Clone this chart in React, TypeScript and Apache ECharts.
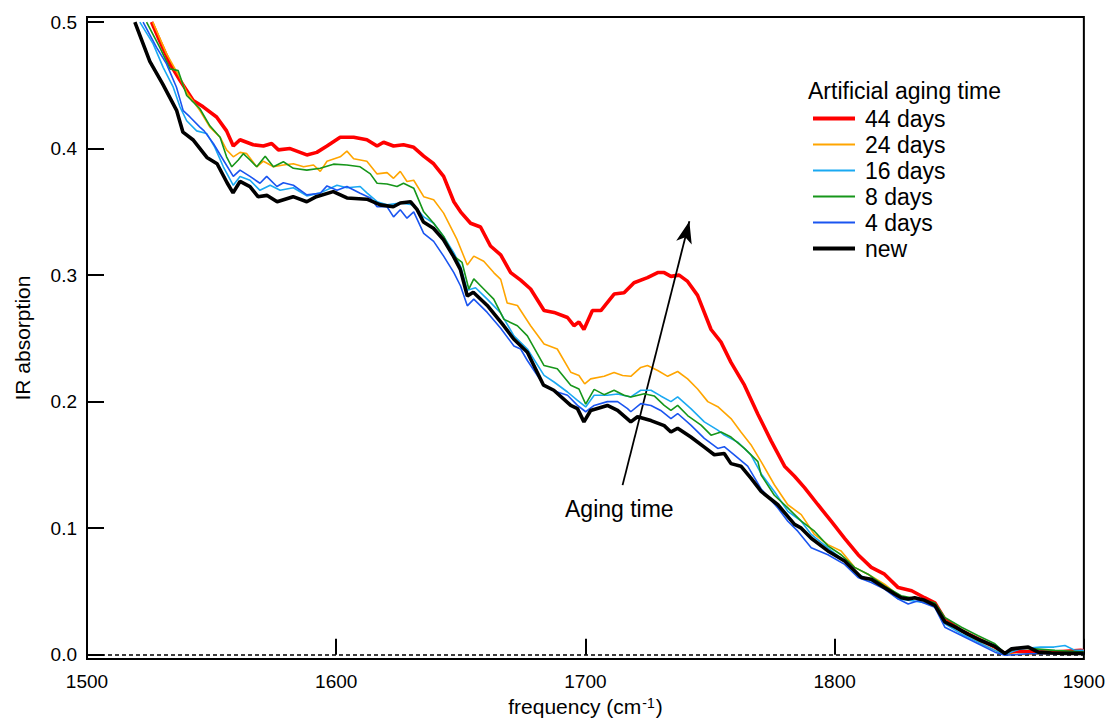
import React, { useEffect, useRef } from "react";
import * as echarts from "echarts";

// Frequency (cm-1), IR absorption pairs
const days44: [number, number][] = [
  [1525.9, 0.5], [1529.2, 0.485], [1533.3, 0.467], [1537.3, 0.454], [1542.6, 0.438], [1546.6, 0.433],
  [1552.0, 0.425], [1556.0, 0.414], [1558.7, 0.402], [1561.4, 0.407], [1566.7, 0.403], [1570.8, 0.402],
  [1574.1, 0.404], [1576.8, 0.399], [1581.5, 0.4], [1588.2, 0.395], [1592.2, 0.397], [1596.3, 0.402],
  [1601.6, 0.409], [1607.0, 0.409], [1612.3, 0.407], [1616.4, 0.402], [1619.0, 0.405], [1623.0, 0.402],
  [1627.0, 0.403], [1631.1, 0.401], [1635.1, 0.394], [1639.1, 0.388], [1643.1, 0.378], [1647.2, 0.358],
  [1649.9, 0.35], [1653.9, 0.341], [1657.9, 0.338], [1661.9, 0.323], [1666.0, 0.316], [1670.0, 0.302],
  [1674.0, 0.296], [1678.0, 0.289], [1683.4, 0.272], [1687.4, 0.2705], [1692.8, 0.2665], [1695.4, 0.26],
  [1697.4, 0.263], [1699.4, 0.257], [1702.8, 0.272], [1706.2, 0.272], [1711.5, 0.285], [1715.5, 0.286],
  [1719.5, 0.294], [1724.9, 0.298], [1729.0, 0.302], [1731.6, 0.302], [1734.3, 0.299], [1737.6, 0.3],
  [1741.0, 0.295], [1745.0, 0.284], [1750.4, 0.257], [1754.4, 0.247], [1758.4, 0.231], [1763.8, 0.213],
  [1769.2, 0.19], [1774.5, 0.169], [1779.9, 0.149], [1783.9, 0.141], [1787.9, 0.132], [1793.3, 0.1185],
  [1798.6, 0.1055], [1804.0, 0.092], [1809.4, 0.079], [1814.7, 0.069], [1820.0, 0.0636], [1825.5, 0.053],
  [1830.9, 0.0505], [1836.1, 0.045], [1840.2, 0.041], [1844.2, 0.028], [1850.9, 0.019], [1857.6, 0.0125],
  [1864.3, 0.006], [1868.3, 0.001], [1873.7, 0.003], [1880.4, 0.002], [1888.4, 0.002], [1898.7, 0.0034],
  [1900, 0.003],
];

const days24: [number, number][] = [
  [1526.4, 0.5], [1531.9, 0.475], [1537.3, 0.456], [1540.0, 0.4445], [1545.3, 0.43], [1549.3, 0.417],
  [1553.4, 0.409], [1556.0, 0.399], [1558.7, 0.3935], [1561.4, 0.397], [1564.1, 0.396], [1568.1, 0.3856],
  [1570.8, 0.39], [1574.8, 0.3856], [1578.8, 0.387], [1582.8, 0.388], [1586.9, 0.3856], [1590.9, 0.387],
  [1593.6, 0.382], [1596.3, 0.39], [1601.6, 0.3935], [1604.3, 0.398], [1607.0, 0.392], [1612.3, 0.39],
  [1616.4, 0.38], [1620.4, 0.381], [1623.0, 0.3765], [1625.7, 0.382], [1628.4, 0.374], [1631.1, 0.375],
  [1635.1, 0.362], [1639.1, 0.3595], [1643.1, 0.349], [1645.8, 0.3385], [1648.5, 0.328], [1652.6, 0.308],
  [1655.2, 0.315], [1659.2, 0.311], [1663.2, 0.302], [1666.0, 0.2966], [1668.6, 0.278], [1672.7, 0.276],
  [1678.0, 0.26], [1683.4, 0.2456], [1688.7, 0.2416], [1694.1, 0.2233], [1697.4, 0.2207], [1699.7, 0.214],
  [1702.1, 0.218], [1707.5, 0.22], [1711.5, 0.223], [1714.9, 0.2207], [1718.2, 0.22], [1722.2, 0.227],
  [1724.9, 0.2285], [1729.0, 0.2246], [1733.0, 0.22], [1737.0, 0.2238], [1741.0, 0.218], [1745.0, 0.21],
  [1749.1, 0.2], [1753.1, 0.196], [1758.4, 0.1866], [1762.4, 0.176], [1766.4, 0.166], [1770.5, 0.1526],
  [1775.8, 0.1343], [1781.2, 0.1185], [1786.6, 0.1107], [1791.9, 0.095], [1797.3, 0.087], [1802.6, 0.082],
  [1808.0, 0.069], [1813.4, 0.0636], [1820.0, 0.0557], [1826.7, 0.045], [1833.5, 0.044], [1840.2, 0.04],
  [1844.2, 0.027], [1850.9, 0.019], [1858.9, 0.0086], [1864.3, 0.0034], [1868.3, 0.0002], [1877.7, 0.0002],
  [1888.4, 0.0007], [1900, 0.002],
];

const days16: [number, number][] = [
  [1521.2, 0.5], [1526.5, 0.483], [1530.6, 0.464], [1534.6, 0.4485], [1537.3, 0.433], [1540.0, 0.422],
  [1544.0, 0.414], [1548.0, 0.412], [1551.3, 0.401], [1554.7, 0.3856], [1558.7, 0.371], [1561.4, 0.378],
  [1565.4, 0.375], [1569.4, 0.367], [1573.5, 0.371], [1577.5, 0.367], [1582.8, 0.369], [1588.2, 0.3626],
  [1593.6, 0.365], [1600.3, 0.371], [1604.3, 0.369], [1609.6, 0.37], [1612.3, 0.365], [1616.4, 0.358],
  [1620.4, 0.3555], [1625.7, 0.357], [1631.1, 0.3555], [1635.1, 0.346], [1639.1, 0.341], [1643.1, 0.3306],
  [1647.2, 0.3176], [1649.9, 0.307], [1652.6, 0.288], [1655.9, 0.29], [1660.6, 0.281], [1666.0, 0.27],
  [1671.3, 0.252], [1676.7, 0.2416], [1683.4, 0.2207], [1687.4, 0.2155], [1692.8, 0.2076], [1696.8, 0.201],
  [1700.1, 0.1958], [1703.5, 0.205], [1708.8, 0.205], [1712.9, 0.206], [1718.2, 0.2037], [1722.2, 0.209],
  [1726.3, 0.209], [1730.2, 0.2045], [1734.3, 0.2], [1737.0, 0.2037], [1742.3, 0.1945], [1747.7, 0.184],
  [1753.1, 0.1775], [1755.7, 0.1735], [1761.1, 0.168], [1766.4, 0.158], [1770.5, 0.143], [1775.8, 0.129],
  [1781.2, 0.1133], [1786.6, 0.1055], [1790.6, 0.095], [1797.3, 0.0845], [1804.0, 0.074], [1809.4, 0.0636],
  [1814.7, 0.0584], [1820.0, 0.053], [1825.5, 0.044], [1830.9, 0.0427], [1836.1, 0.041], [1840.2, 0.0387],
  [1844.2, 0.0243], [1850.9, 0.0164], [1857.6, 0.0099], [1864.3, 0.0034], [1868.3, 0.0002], [1874.6, 0.0046],
  [1882.6, 0.006], [1888.0, 0.006], [1892.4, 0.0073], [1896.5, 0.0034], [1900, 0.0034],
];

const days8: [number, number][] = [
  [1523.9, 0.5], [1529.2, 0.48], [1533.3, 0.463], [1536.6, 0.4616], [1540.0, 0.442], [1545.3, 0.4315],
  [1549.3, 0.418], [1553.4, 0.409], [1556.0, 0.3935], [1558.1, 0.3856], [1560.7, 0.391], [1562.7, 0.396],
  [1565.4, 0.391], [1568.1, 0.3856], [1571.5, 0.394], [1574.8, 0.3856], [1578.8, 0.3896], [1582.8, 0.3844],
  [1588.2, 0.383], [1593.6, 0.3844], [1598.9, 0.3877], [1604.3, 0.387], [1609.6, 0.3856], [1613.7, 0.38],
  [1616.4, 0.3726], [1620.4, 0.372], [1624.4, 0.37], [1627.0, 0.3726], [1631.1, 0.3687], [1635.1, 0.35],
  [1639.1, 0.341], [1643.1, 0.3306], [1647.2, 0.315], [1650.5, 0.31], [1653.2, 0.289], [1655.2, 0.297],
  [1659.2, 0.289], [1663.2, 0.281], [1667.3, 0.265], [1672.7, 0.26], [1676.7, 0.252], [1683.4, 0.2285],
  [1688.7, 0.226], [1694.1, 0.213], [1697.4, 0.21], [1700.1, 0.198], [1703.5, 0.2097], [1707.5, 0.2055],
  [1711.5, 0.209], [1715.5, 0.205], [1718.2, 0.2037], [1723.6, 0.2063], [1727.6, 0.2045], [1731.6, 0.197],
  [1734.3, 0.193], [1737.0, 0.197], [1741.0, 0.189], [1746.4, 0.1814], [1750.4, 0.1735], [1754.4, 0.176],
  [1758.4, 0.172], [1763.8, 0.163], [1769.2, 0.1526], [1770.5, 0.142], [1775.8, 0.126], [1781.2, 0.116],
  [1786.6, 0.1055], [1791.9, 0.0976], [1797.3, 0.086], [1802.6, 0.079], [1808.0, 0.069], [1813.4, 0.0636],
  [1820.0, 0.0544], [1826.7, 0.0466], [1833.5, 0.044], [1840.2, 0.041], [1844.2, 0.0295], [1850.9, 0.0217],
  [1857.6, 0.015], [1864.3, 0.0086], [1868.3, 0.0013], [1873.7, 0.0054], [1880.4, 0.0046], [1888.4, 0.0034],
  [1900, 0.002],
];

const days4: [number, number][] = [
  [1522.5, 0.5], [1527.9, 0.48], [1531.9, 0.467], [1535.9, 0.4485], [1538.6, 0.43], [1541.3, 0.425],
  [1545.3, 0.417], [1547.0, 0.414], [1550.7, 0.404], [1554.7, 0.391], [1558.7, 0.378], [1561.4, 0.383],
  [1565.4, 0.378], [1569.4, 0.3726], [1572.1, 0.378], [1576.2, 0.37], [1578.8, 0.373], [1582.8, 0.371],
  [1588.2, 0.3634], [1593.6, 0.3647], [1596.3, 0.3705], [1600.3, 0.367], [1604.3, 0.37], [1609.6, 0.3647],
  [1613.7, 0.361], [1616.4, 0.354], [1620.4, 0.354], [1623.0, 0.346], [1625.7, 0.3516], [1628.4, 0.345],
  [1631.1, 0.35], [1635.1, 0.333], [1639.1, 0.3267], [1643.1, 0.315], [1647.2, 0.302], [1649.9, 0.2914],
  [1652.6, 0.2757], [1655.2, 0.281], [1660.6, 0.2705], [1666.0, 0.258], [1671.3, 0.244], [1674.0, 0.2416],
  [1676.7, 0.2325], [1683.4, 0.2128], [1688.7, 0.2076], [1692.8, 0.205], [1696.8, 0.197], [1700.1, 0.192],
  [1703.5, 0.197], [1708.8, 0.2], [1712.9, 0.2], [1716.9, 0.1945], [1718.2, 0.192], [1722.2, 0.1984],
  [1726.3, 0.197], [1730.2, 0.193], [1734.3, 0.1866], [1737.0, 0.1906], [1742.3, 0.1814], [1747.7, 0.171],
  [1753.1, 0.163], [1755.7, 0.1644], [1759.7, 0.158], [1765.1, 0.149], [1770.5, 0.131], [1777.2, 0.116],
  [1781.2, 0.1055], [1785.2, 0.0976], [1790.6, 0.0845], [1797.3, 0.079], [1804.0, 0.0714], [1809.4, 0.061],
  [1814.7, 0.057], [1820.0, 0.0518], [1825.5, 0.044], [1829.5, 0.04], [1833.5, 0.0427], [1840.2, 0.0374],
  [1844.2, 0.0217], [1850.9, 0.0152], [1857.6, 0.0086], [1864.3, 0.002], [1868.3, -0.0005], [1877.7, 0.0007],
  [1888.4, 0.0007], [1900, 0.0013],
];

const newSample: [number, number][] = [
  [1519.2, 0.5], [1525.2, 0.469], [1530.4, 0.451], [1536.0, 0.43], [1538.5, 0.413], [1542.5, 0.407],
  [1548.1, 0.393], [1552.2, 0.388], [1556.2, 0.373], [1558.6, 0.365], [1561.4, 0.374], [1565.4, 0.37],
  [1568.6, 0.362], [1572.3, 0.363], [1576.3, 0.358], [1582.7, 0.362], [1588.2, 0.358], [1592.0, 0.362],
  [1598.8, 0.366], [1604.3, 0.361], [1612.3, 0.36], [1617.7, 0.3555], [1622.9, 0.354], [1625.7, 0.357],
  [1629.8, 0.358], [1632.4, 0.352], [1635.0, 0.342], [1639.0, 0.337], [1643.0, 0.328], [1647.0, 0.315],
  [1649.8, 0.3045], [1652.6, 0.2835], [1655.0, 0.2864], [1660.6, 0.276], [1667.2, 0.26], [1671.2, 0.2495],
  [1676.7, 0.239], [1683.2, 0.213], [1687.3, 0.209], [1694.1, 0.197], [1696.8, 0.1945], [1699.4, 0.184],
  [1702.1, 0.193], [1708.8, 0.197], [1712.9, 0.193], [1718.2, 0.184], [1720.9, 0.188], [1726.3, 0.185],
  [1731.6, 0.181], [1734.3, 0.176], [1737.0, 0.179], [1742.3, 0.172], [1747.7, 0.164], [1751.7, 0.158],
  [1755.7, 0.159], [1758.4, 0.151], [1762.4, 0.149], [1766.4, 0.1395], [1770.5, 0.129], [1777.2, 0.1185],
  [1783.9, 0.103], [1786.6, 0.1], [1790.6, 0.092], [1797.3, 0.082], [1804.0, 0.074], [1810.7, 0.061],
  [1814.7, 0.0596], [1820.0, 0.053], [1824.1, 0.048], [1826.7, 0.045], [1829.5, 0.044], [1832.1, 0.045],
  [1836.1, 0.043], [1840.2, 0.039], [1844.2, 0.026], [1848.2, 0.022], [1853.6, 0.016], [1858.9, 0.011],
  [1864.3, 0.0065], [1868.3, 0.001], [1871.0, 0.0046], [1877.7, 0.006], [1881.7, 0.002], [1887.0, 0.0013],
  [1892.4, 0.001], [1900, 0.001],
];

const seriesNames = ["44 days", "24 days", "16 days", "8 days", "4 days", "new"];
const seriesData = [days44, days24, days16, days8, days4, newSample];
const seriesColors = ["#ff0000", "#ffa500", "#1aa9f2", "#16961a", "#1a55f0", "#000000"];
const seriesWidths = [3.6, 1.6, 1.6, 1.6, 1.6, 3.6];

const xTicks = [1500, 1600, 1700, 1800, 1900];
const yTicks = [0, 0.1, 0.2, 0.3, 0.4, 0.5];

// arrow annotation ("Aging time") endpoints in data space
const arrowStart: [number, number] = [1714.9, 0.134];
const arrowEnd: [number, number] = [1741.7, 0.3425];

const FONT = "'Liberation Sans', Arial, Helvetica, sans-serif";

export default function App() {
  const ref = useRef<HTMLDivElement>(null);

  useEffect(() => {
    document.body.style.margin = "0";
    if (!ref.current) return;
    const chart = echarts.init(ref.current, null, { renderer: "svg" });

    const lineSeries = seriesNames.map((name, i) => ({
      name,
      type: "line",
      data: seriesData[i],
      symbol: "none",
      showSymbol: false,
      color: seriesColors[i],
      lineStyle: { color: seriesColors[i], width: seriesWidths[i] },
      z: 3 + i,
    }));

    const annotation = {
      name: "annotation",
      type: "line",
      data: [],
      silent: true,
      z: 10,
      markLine: {
        silent: true,
        animation: false,
        label: { show: false },
        data: [
          [
            { coord: arrowStart, symbol: "none", lineStyle: { color: "#000", width: 1.8, type: "solid" } },
            { coord: arrowEnd, symbol: "arrow", symbolSize: [12, 22] },
          ],
          {
            yAxis: 0,
            symbol: "none",
            lineStyle: { color: "#000", width: 1.5, type: [4, 3] },
          },
        ],
        symbol: ["none", "none"],
        itemStyle: { color: "#000" },
        lineStyle: { color: "#000" },
      },
    };

    chart.setOption({
      animation: false,
      textStyle: { fontFamily: FONT },
      grid: {
        left: 87,
        right: 24,
        top: 17,
        bottom: 60,
        show: true,
        borderColor: "#000",
        borderWidth: 2,
        backgroundColor: "transparent",
        containLabel: false,
      },
      xAxis: {
        type: "value",
        min: 1500,
        max: 1900,
        interval: 100,
        axisLine: { show: false },
        axisTick: {
          show: true,
          inside: true,
          length: 16,
          lineStyle: { color: "#000", width: 2 },
          customValues: xTicks,
        },
        axisLabel: {
          color: "#000",
          fontSize: 19,
          fontFamily: FONT,
          margin: 13,
          showMinLabel: true,
          showMaxLabel: true,
          customValues: xTicks,
          formatter: (v: number) => String(v),
        },
        splitLine: { show: false },
        name: "{n|frequency (cm}{s|-1}{n|)}",
        nameLocation: "middle",
        nameGap: 33,
        nameTextStyle: {
          color: "#000",
          fontFamily: FONT,
          rich: {
            n: { fontSize: 21, color: "#000", fontFamily: FONT },
            s: { fontSize: 14, color: "#000", fontFamily: FONT, verticalAlign: "top", padding: [0, 1, 0, 1] },
          },
        },
      },
      yAxis: {
        type: "value",
        min: -0.0035,
        max: 0.504,
        axisLine: { show: false },
        axisTick: {
          show: true,
          inside: true,
          length: 17,
          lineStyle: { color: "#000", width: 2 },
          customValues: yTicks,
        },
        axisLabel: {
          color: "#000",
          fontSize: 19,
          fontFamily: FONT,
          margin: 10,
          customValues: yTicks,
          formatter: (v: number) => v.toFixed(1),
        },
        splitLine: { show: false },
        name: "IR absorption",
        nameLocation: "middle",
        nameGap: 54,
        nameTextStyle: { color: "#000", fontSize: 21, fontFamily: FONT },
      },
      legend: {
        data: seriesNames.map((name, i) => ({
          name,
          lineStyle: { width: seriesWidths[i] + 0.4, color: seriesColors[i] },
        })),
        orient: "vertical",
        left: 811,
        top: 107,
        itemWidth: 42,
        itemHeight: 14,
        itemGap: 3,
        padding: 0,
        selectedMode: false,
        itemStyle: { opacity: 0 },
        textStyle: { color: "#000", fontSize: 23, fontFamily: FONT, padding: [0, 0, 0, 5] },
      },
      graphic: [
        {
          type: "text",
          left: 808,
          top: 79,
          style: { text: "Artificial aging time", fill: "#000", fontSize: 23, fontFamily: FONT },
        },
        {
          type: "text",
          left: 565,
          top: 497,
          style: { text: "Aging time", fill: "#000", fontSize: 23, fontFamily: FONT },
        },
      ],
      series: [...lineSeries, annotation],
    });

    return () => chart.dispose();
  }, []);

  return <div ref={ref} style={{ width: 1108, height: 722 }} />;
}
